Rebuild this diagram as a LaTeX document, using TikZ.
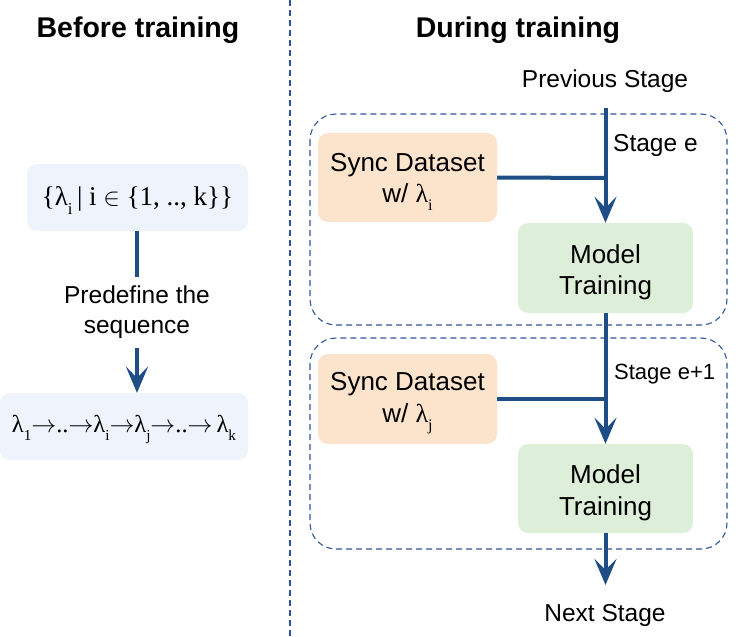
\documentclass[tikz,border=0pt]{standalone}
\usepackage{fontspec}
\setmainfont{Liberation Sans}
\newfontfamily\serif{Liberation Serif}
\usetikzlibrary{arrows.meta}
\definecolor{arrowblue}{RGB}{31,78,135}
\definecolor{dashblue}{RGB}{47,85,151}
\definecolor{lightblue}{RGB}{238,243,252}
\definecolor{peach}{RGB}{252,228,204}
\definecolor{mint}{RGB}{221,239,216}
\newcommand\lsub[1]{\raisebox{-0.32em}{\scalebox{0.62}{#1}}}
\newcommand\topstrut{\rule{0pt}{27pt}}
\tikzset{
  box/.style={rounded corners=10pt, inner sep=0pt, align=center, font=\fontsize{26}{31.5}\selectfont},
  lbl/.style={inner sep=0pt, align=center, font=\fontsize{24.5}{30}\selectfont},
  title/.style={inner sep=0pt, font=\fontsize{28.5}{34}\selectfont\bfseries},
  conn/.style={draw=arrowblue, line width=4pt},
  arr/.style={conn, -{Stealth[length=26pt,width=22pt,inset=11pt]}},
  stagebox/.style={draw=dashblue, line width=1.1pt, dash pattern=on 6pt off 4pt, rounded corners=26pt},
}
\begin{document}
\begin{tikzpicture}[x=1pt,y=-1pt]
\useasboundingbox (0,0) rectangle (739,637);
% titles and separator
\node[title] (tbefore) at (138,30) {Before training};
\node[title] (tduring) at (518,30) {During training};
\draw[draw=dashblue, line width=1.1pt, dash pattern=on 6pt off 4pt] (290,0) -- (290,637);

% left column
\node[box, fill=lightblue, minimum width=221pt, minimum height=67pt] (set) at (137.5,197.5)
  {\serif\fontsize{27}{30}\selectfont \rule{0pt}{25pt}\{λ\lsub{i}\,| i $\in$\ \{1, .., k\}\}};
\node[lbl] (predef) at (137,312.5) {Predefine the\\sequence};
\node[box, fill=lightblue, minimum width=248pt, minimum height=67pt] (seq) at (124,426.5)
  {\serif\fontsize{24.5}{28}\selectfont \rule{0pt}{24pt}λ\lsub{1}$\rightarrow$..$\rightarrow$λ\lsub{i}$\rightarrow$λ\lsub{j}$\rightarrow$..$\rightarrow$\,λ\lsub{k}};
\coordinate (c1) at (137,277);
\coordinate (c2) at (137,348);
\draw[conn] (set.south -| c1) -- (c1);
\draw[arr] (c2) -- (c2 |- seq.north);

% right column
\node[lbl] (prev) at (605,81) {Previous Stage};
\draw[stagebox] (310,114) rectangle (727,325);
\draw[stagebox] (310,338) rectangle (727,549);

\node[box, fill=peach, minimum width=179pt, minimum height=89pt] (sd1) at (407.5,177.5)
  {\topstrut Sync Dataset\\w/ {\serif λ\lsub{i}}};
\node[box, fill=mint, minimum width=175pt, minimum height=90pt] (mt1) at (605.5,268)
  {\topstrut Model\\Training};
\node[box, fill=peach, minimum width=179pt, minimum height=90pt] (sd2) at (407.5,399)
  {\topstrut Sync Dataset\\w/ {\serif λ\lsub{j}}};
\node[box, fill=mint, minimum width=175pt, minimum height=89pt] (mt2) at (605.5,488.5)
  {\topstrut Model\\Training};

\node[lbl, anchor=west] (st1) at (613,145) {Stage e};
\node[lbl, anchor=west, font=\fontsize{22}{26}\selectfont] (st2) at (614,374) {Stage e+1};
\node[lbl] (next) at (605,615) {Next Stage};

\coordinate (p0) at (605.5,108);
\coordinate (j1) at (605.5,178);
\coordinate (j2) at (605.5,399);
\coordinate (n0) at (605.5,585);
\draw[arr] (p0) -- (mt1.north);
\draw[conn] (sd1.east) -- (j1);
\draw[arr] (mt1.south) -- (mt2.north);
\draw[conn] (sd2.east) -- (j2);
\draw[arr] (mt2.south) -- (n0);
\end{tikzpicture}
\end{document}
